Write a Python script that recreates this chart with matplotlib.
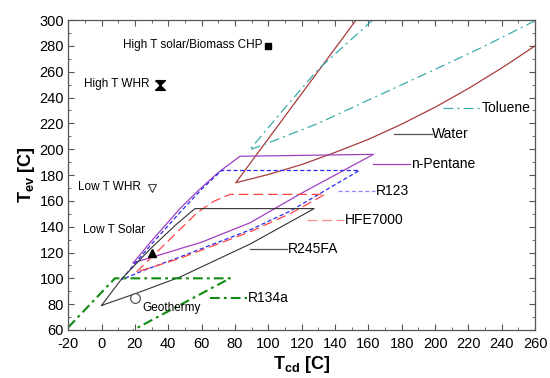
import numpy as np
import matplotlib.pyplot as plt
from matplotlib.ticker import MultipleLocator

plt.rcParams['font.family'] = ['Liberation Sans', 'DejaVu Sans']
plt.rcParams['mathtext.fontset'] = 'custom'
plt.rcParams['mathtext.rm'] = 'Liberation Sans'
plt.rcParams['mathtext.bf'] = 'Liberation Sans:bold'
plt.rcParams['lines.scale_dashes'] = False
plt.rcParams['axes.unicode_minus'] = False

# operating envelopes (Tcd, Tev)
water_x = [152.6, 80.5, 100, 120, 140, 160, 180, 200, 220, 240, 260]
water_y = [300, 174, 180.4, 188.1, 197.5, 207.6, 219.4, 232.5, 247, 262.9, 280]

toluene_x = [162.6, 130, 110, 88.7, 97, 130, 160, 197, 230, 260]
toluene_y = [300, 262, 232, 199.4, 203.4, 220, 238, 260, 280, 299.5]

pentane_x = [19, 30, 47, 58, 70, 83, 163, 120, 89, 60, 32, 19]
pentane_y = [112, 129, 154, 168, 182, 194.5, 196, 166, 143, 128, 117, 112]

r123_x = [12, 20, 30, 47, 60, 72, 154.5, 113, 89, 47, 25, 12]
r123_y = [99, 111.5, 126.5, 151, 169, 183.5, 183.5, 152, 137.5, 116.5, 106, 99]

hfe_x = [21, 40, 57, 67, 77, 134, 113, 89, 47, 30, 21]
hfe_y = [105, 129, 150.5, 159.5, 165, 165, 150, 136, 115.5, 108.5, 105]

r245_x = [0, 12, 29, 45, 56, 127.5, 89, 47, 20, 0]
r245_y = [79, 99.5, 122.5, 142, 154, 154, 126.5, 101, 88, 79]

r134_x = [-20, -6, 8, 77, 19]
r134_y = [62, 81, 100, 100, 60]

# application points
apps = ["High T solar/Biomass CHP", "High T WHR", "Low T WHR", "Low T Solar", "Geothermy"]
app_x = [100, 35, 30, 30, 20]
app_y = [280, 250, 170, 120, 85]

fig = plt.figure(figsize=(5.5, 3.78), dpi=100)
ax = fig.add_axes([0.124, 0.127, 0.849, 0.820])

c_water = '#A83C3C'
c_tol = '#3AABAB'
c_pent = '#A040C0'
c_r123 = '#2A2AF0'
c_hfe = '#FF4545'
c_r245 = '#333333'
c_r134 = '#108A10'

ax.plot(water_x, water_y, color=c_water, lw=0.9)
ax.plot(toluene_x, toluene_y, color=c_tol, lw=0.9, dashes=(7, 3, 1.5, 3))
ax.plot(pentane_x, pentane_y, color=c_pent, lw=0.9)
ax.plot(r123_x, r123_y, color=c_r123, lw=0.9, dashes=(3, 1.8))
ax.plot(hfe_x, hfe_y, color=c_hfe, lw=0.9, dashes=(7, 3.5))
ax.plot(r245_x, r245_y, color=c_r245, lw=0.8)
ax.plot(r134_x, r134_y, color=c_r134, lw=1.5, dashes=(7, 3, 2, 3))

# fluid labels with a short line sample
labels = [
    ("Toluene", 205, 232, c_tol, (7, 3, 1.5, 3)),
    ("Water", 175.6, 211.7, '#555555', None),
    ("n-Pentane", 162.6, 188.4, c_pent, None),
    ("R123", 141.6, 168, '#8C8CFF', (3, 1.8)),
    ("HFE7000", 123, 145.3, '#FF8C8C', (7, 3.5)),
    ("R245FA", 89, 122.5, '#555555', None),
    ("R134a", 65, 85, c_r134, (7, 3, 2, 3)),
]
for name, x0, y0, col, ds in labels:
    kw = dict(color=col, lw=1.5 if name == "R134a" else 0.9)
    if ds:
        kw['dashes'] = ds
    ax.plot([x0, x0 + 22.4], [y0, y0], **kw)
    ax.text(x0 + 22.8, y0, name, fontsize=10, va='center', ha='left')

# application markers
ax.plot(app_x[0], app_y[0], marker='s', ms=5, color='black', ls='none')
hourglass = [(-1, 1), (1, 1), (0, 0), (1, -1), (-1, -1), (0, 0), (-1, 1)]
ax.plot(app_x[1], app_y[1], marker=hourglass, ms=7, color='black', ls='none')
ax.plot(app_x[2], app_y[2], marker='v', ms=6, mfc='white', mec='#444444', mew=0.8, ls='none')
ax.plot(app_x[3], app_y[3], marker='^', ms=6, color='black', ls='none')
ax.plot(app_x[4], app_y[4], marker='o', ms=7, mfc='white', mec='#444444', mew=0.8, ls='none')

ax.text(12.6, 280.5, apps[0], fontsize=8.5, va='center', ha='left')
ax.text(-10.4, 250.5, apps[1], fontsize=8.5, va='center', ha='left')
ax.text(-14, 170.5, apps[2], fontsize=8.5, va='center', ha='left')
ax.text(-11.4, 137.5, apps[3], fontsize=8.5, va='center', ha='left')
ax.text(24.6, 76.8, apps[4], fontsize=8.5, va='center', ha='left')

ax.set_xlim(-20, 260)
ax.set_ylim(60, 300)
ax.xaxis.set_major_locator(MultipleLocator(20))
ax.xaxis.set_minor_locator(MultipleLocator(10))
ax.yaxis.set_major_locator(MultipleLocator(20))
ax.yaxis.set_minor_locator(MultipleLocator(10))
ax.tick_params(which='both', direction='in', top=True, right=True, color='#555555', labelsize=10.5)
ax.tick_params(which='major', length=4)
ax.tick_params(which='minor', length=2.5)
ax.tick_params(axis='x', pad=5)
ax.tick_params(axis='y', pad=3)
for s in ax.spines.values():
    s.set_color('#555555')
    s.set_linewidth(0.9)

ax.set_xlabel(r'T$_{\mathbf{cd}}$ [C]', fontsize=13, fontweight='bold', labelpad=2)
ax.set_ylabel(r'T$_{\mathbf{ev}}$ [C]', fontsize=13, fontweight='bold', labelpad=2)

fig.savefig('out.png', dpi=100)
